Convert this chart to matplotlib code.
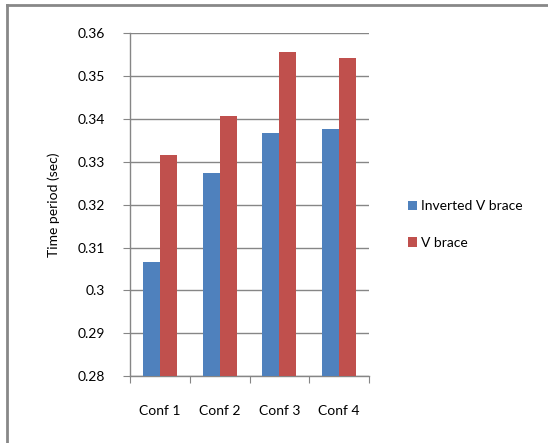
import numpy as np
import matplotlib.pyplot as plt
from matplotlib.lines import Line2D

plt.rcParams['font.family'] = ['Lato', 'DejaVu Sans']

confs = ['Conf 1', 'Conf 2', 'Conf 3', 'Conf 4']
inverted_v = [0.3066, 0.3275, 0.3367, 0.3377]
v_brace = [0.3316, 0.3407, 0.3557, 0.3543]
yticks = [0.28, 0.29, 0.3, 0.31, 0.32, 0.33, 0.34, 0.35, 0.36]
ytick_labels = ['0.28', '0.29', '0.3', '0.31', '0.32', '0.33', '0.34', '0.35', '0.36']

blue = '#4F81BD'
red = '#C0504D'
grid_c = '#868686'

fig = plt.figure(figsize=(5.48, 4.43), dpi=100)
ax = fig.add_axes([0.2372, 0.1512, 0.4362, 0.7732])

x = np.arange(len(confs))
w = 0.285
ax.bar(x - w / 2, inverted_v, w, color=blue, label='Inverted V brace', zorder=3)
ax.bar(x + w / 2, v_brace, w, color=red, label='V brace', zorder=3)

ax.set_xlim(-0.5, len(confs) - 0.5)
ax.set_ylim(0.28, 0.36)
ax.set_yticks(yticks)
ax.set_yticklabels(ytick_labels)
ax.yaxis.grid(True, color=grid_c, linewidth=1.0, zorder=0)

# category ticks at group boundaries, labels at centres
ax.set_xticks(np.arange(len(confs) + 1) - 0.5)
ax.set_xticklabels([])
ax.set_xticks(x, minor=True)
ax.set_xticklabels(confs, minor=True)
ax.tick_params(axis='x', which='minor', length=0, pad=21, labelsize=10, colors='black')
ax.tick_params(axis='x', which='major', length=5, color=grid_c, direction='out')
ax.tick_params(axis='y', length=5, color=grid_c, direction='out', pad=13, labelsize=10)

for s in ['top', 'right']:
    ax.spines[s].set_visible(False)
for s in ['left', 'bottom']:
    ax.spines[s].set_color(grid_c)
    ax.spines[s].set_linewidth(1.0)

ax.set_ylabel('Time period (sec)', fontsize=10, labelpad=13)

leg = ax.legend(loc='center left', bbox_to_anchor=(1.11, 0.442), frameon=False,
                fontsize=10, handlelength=0.65, handleheight=0.65, handletextpad=0.3,
                labelspacing=1.75)

# outer chart border (only top and left visible in crop)
fig.add_artist(Line2D([0.013, 0.013], [0, 0.989], color='#888888', linewidth=2.0,
                      transform=fig.transFigure))
fig.add_artist(Line2D([0.012, 1.0], [0.989, 0.989], color='#888888', linewidth=2.0,
                      transform=fig.transFigure))

fig.savefig('out.png', dpi=100)
